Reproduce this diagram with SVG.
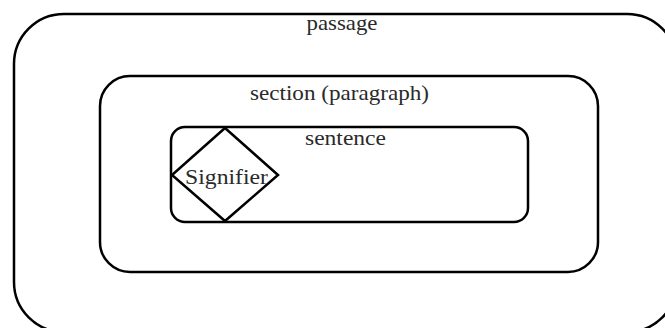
<svg xmlns="http://www.w3.org/2000/svg" width="665" height="328" viewBox="0 0 665 328">
<style>
.box{fill:none;stroke:#000;stroke-width:2.5}
.lbl{font-family:"Liberation Serif","Times New Roman",serif;font-size:21px;fill:#2a2a2a;text-anchor:middle}
</style>
<rect width="665" height="328" fill="#fff"/>
<g id="passage">
<rect class="box" x="14" y="14" width="663" height="318" rx="50" ry="50"/>
<text class="lbl" x="342" y="30" textLength="71" lengthAdjust="spacingAndGlyphs">passage</text>
</g>
<g id="section">
<rect class="box" x="100" y="76" width="498" height="196" rx="30" ry="30"/>
<text class="lbl" x="339.5" y="100" textLength="179" lengthAdjust="spacingAndGlyphs">section (paragraph)</text>
</g>
<g id="sentence">
<rect class="box" x="171" y="127" width="357" height="95" rx="14" ry="14"/>
<text class="lbl" x="345.5" y="145" textLength="81" lengthAdjust="spacingAndGlyphs">sentence</text>
</g>
<g id="signifier">
<polygon class="box" points="225,128 278,175 225,221 172,175"/>
<text class="lbl" x="226.5" y="184" textLength="83" lengthAdjust="spacingAndGlyphs">Signifier</text>
</g>
<g id="connectors"></g>
</svg>
